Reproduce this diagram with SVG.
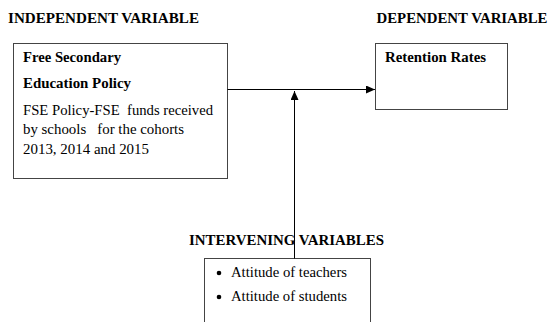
<svg xmlns="http://www.w3.org/2000/svg" width="550" height="322" viewBox="0 0 550 322">
<style>
.box{fill:#fff;stroke:#444;stroke-width:1}
text{font-family:'Liberation Serif','Times New Roman','DejaVu Serif',serif;fill:#000}
.h{font-weight:bold;font-size:15px}
.t{font-size:14.5px}
.b{font-weight:bold;font-size:14.5px}
.c{stroke:#000;stroke-width:1;fill:none}
</style>
<defs>
<marker id="ah" markerWidth="9" markerHeight="8" refX="9" refY="4" orient="auto" markerUnits="userSpaceOnUse">
<path d="M0,0 L9,4 L0,8 Z" fill="#000"/>
</marker>
</defs>
<rect width="550" height="322" fill="#fff"/>
<text class="h" x="8" y="23" textLength="191" lengthAdjust="spacingAndGlyphs">INDEPENDENT VARIABLE</text>
<text class="h" x="376.5" y="23" textLength="171" lengthAdjust="spacingAndGlyphs">DEPENDENT VARIABLE</text>
<g id="fse">
<rect class="box" x="13.5" y="43.5" width="214" height="135"/>
<text class="b" x="23" y="62" textLength="98" lengthAdjust="spacingAndGlyphs">Free Secondary</text>
<text class="b" x="23" y="88" textLength="108" lengthAdjust="spacingAndGlyphs">Education Policy</text>
<text class="t" x="23" y="115" xml:space="preserve" textLength="190" lengthAdjust="spacingAndGlyphs">FSE Policy-FSE  funds received</text>
<text class="t" x="23" y="134" xml:space="preserve" textLength="161" lengthAdjust="spacingAndGlyphs">by schools   for the cohorts</text>
<text class="t" x="23" y="154" textLength="126" lengthAdjust="spacingAndGlyphs">2013, 2014 and 2015</text>
</g>
<g id="retention">
<rect class="box" x="375.5" y="43.5" width="132" height="66"/>
<text class="b" x="385" y="62" textLength="101" lengthAdjust="spacingAndGlyphs">Retention Rates</text>
</g>
<g id="intervening">
<text class="h" x="189" y="245" textLength="195" lengthAdjust="spacingAndGlyphs">INTERVENING VARIABLES</text>
<rect class="box" x="204.5" y="258.5" width="166" height="80"/>
<circle cx="219" cy="273" r="2.3" fill="#000"/>
<circle cx="219" cy="297" r="2.3" fill="#000"/>
<text class="t" x="231" y="277" textLength="116" lengthAdjust="spacingAndGlyphs">Attitude of teachers</text>
<text class="t" x="231" y="301" textLength="116" lengthAdjust="spacingAndGlyphs">Attitude of students</text>
</g>
<g id="connectors">
<line class="c" x1="227.5" y1="89.5" x2="375" y2="89.5" marker-end="url(#ah)"/>
<line class="c" x1="294.5" y1="258.5" x2="294.5" y2="91" marker-end="url(#ah)"/>
</g>
</svg>
